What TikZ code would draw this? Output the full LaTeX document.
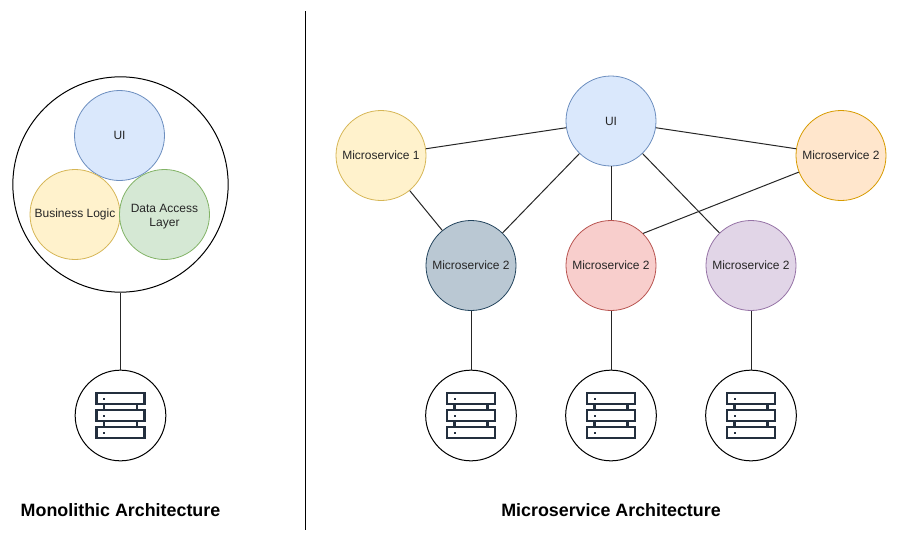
\documentclass[tikz,border=0pt]{standalone}
\usepackage{fontspec}
\setmainfont{Liberation Sans}
\definecolor{uifill}{HTML}{DAE8FC}
\definecolor{uiline}{HTML}{6C8EBF}
\definecolor{yelfill}{HTML}{FFF2CC}
\definecolor{yelline}{HTML}{D6B656}
\definecolor{grnfill}{HTML}{D5E8D4}
\definecolor{grnline}{HTML}{82B366}
\definecolor{orgfill}{HTML}{FFE6CC}
\definecolor{orgline}{HTML}{D79B00}
\definecolor{redfill}{HTML}{F8CECC}
\definecolor{redline}{HTML}{B85450}
\definecolor{purfill}{HTML}{E1D5E7}
\definecolor{purline}{HTML}{9673A6}
\definecolor{slatefill}{HTML}{BAC8D3}
\definecolor{slateline}{HTML}{23445D}
\definecolor{iconcol}{HTML}{232F3E}
\tikzset{
  svc/.style n args={2}{circle, draw=#2, fill=#1, line width=0.6pt, minimum size=67.5pt, inner sep=0pt, align=center, font=\fontsize{9}{10.5}\selectfont, text=black!85},
  store/.style={circle, draw=black, line width=0.75pt, minimum size=68pt, inner sep=0pt, fill=white},
  link/.style={draw=black!85, line width=0.75pt},
  heading/.style={font=\fontsize{13.4}{16}\selectfont\bfseries, text=black},
  pics/rack/.style={code={
    % three shelves with their little lights
    \foreach \yy in {-17,0,17} {
      \draw[iconcol, line width=1.7pt] (-24,\yy-5.5) rectangle (24,\yy+5.5);
      \fill[iconcol] (-17.5,\yy-1) rectangle (-15.5,\yy+1);
    }
    \foreach \xx in {-16.5,16.5} {
      \draw[iconcol, line width=1.7pt] (\xx,-11.5) -- (\xx,-5.5);
      \draw[iconcol, line width=1.7pt] (\xx,5.5) -- (\xx,11.5);
    }
  }}
}
\begin{document}
\begin{tikzpicture}[x=0.75pt, y=-0.75pt]
    \useasboundingbox (0,0) rectangle (897,543);

    % Separator
    \coordinate (septop) at (305.5,11);
    \coordinate (sepbot) at (305.5,530);
    \draw[black, line width=0.75pt] (septop) -- (sepbot);

    % Monolith
    \node[store, minimum size=161.5pt] (mono) at (120.5,184.5) {};
    \node[svc={uifill}{uiline}] (monoui) at (119.5,135.5) {UI};
    \node[svc={yelfill}{yelline}] (logic) at (75,214.5) {Business Logic};
    \node[svc={grnfill}{grnline}] (dal) at (164.5,214.5) {\rule{0pt}{9.5pt}Data Access\\Layer};
    \node[store] (monodb) at (120.5,415.5) {};
    \pic at (monodb) {rack};
    \draw[link] (mono) -- (monodb);

    % Microservices
    \node[svc={uifill}{uiline}] (ui) at (611,121) {UI};
    \node[svc={yelfill}{yelline}] (ms1) at (381,155.5) {Microservice 1};
    \node[svc={orgfill}{orgline}] (msorg) at (841,155.5) {Microservice 2};
    \node[svc={slatefill}{slateline}] (msslate) at (471,265.5) {Microservice 2};
    \node[svc={redfill}{redline}] (msred) at (611,265.5) {Microservice 2};
    \node[svc={purfill}{purline}] (mspur) at (751,265.5) {Microservice 2};

    \draw[link] (ui) -- (ms1);
    \draw[link] (ui) -- (msorg);
    \draw[link] (ui) -- (msslate);
    \draw[link] (ui) -- (msred);
    \draw[link] (ui) -- (mspur);
    \draw[link] (ms1) -- (msslate);
    \draw[link] (msred.north east) -- (msorg);

    % Databases
    \foreach \nm/\xx in {msslate/471, msred/611, mspur/751} {
      \node[store] (\nm db) at (\xx,415.5) {};
      \pic at (\nm db) {rack};
      \draw[link] (\nm) -- (\nm db);
    }

    % Titles
    \node[heading] (monotitle) at (120.5,510) {Monolithic Architecture};
    \node[heading] (microtitle) at (611,510) {Microservice Architecture};
\end{tikzpicture}
\end{document}
